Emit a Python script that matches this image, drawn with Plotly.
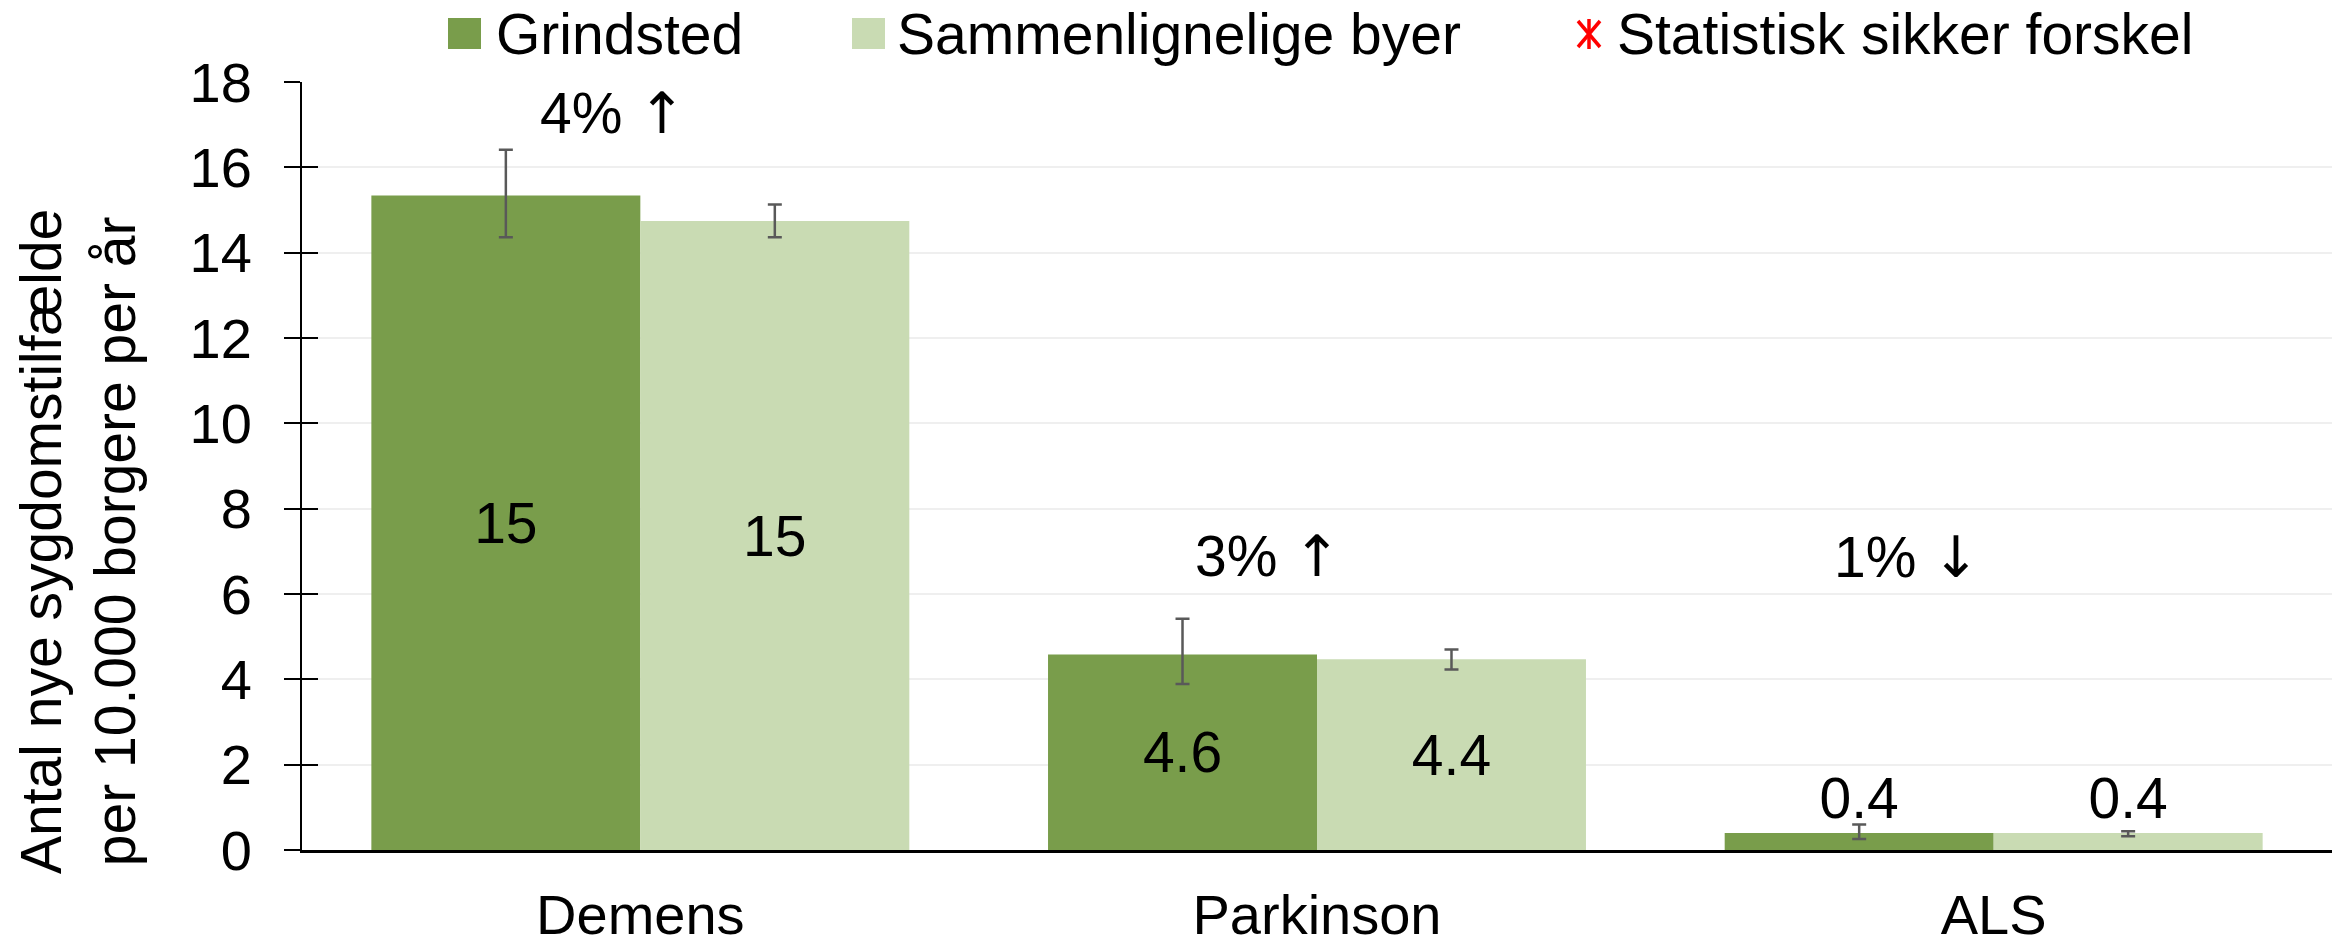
import plotly.graph_objects as go

# ---- data ----
categories = ["Demens", "Parkinson", "ALS"]
grindsted = [15.34, 4.58, 0.40]
grindsted_lo = [14.36, 3.89, 0.26]
grindsted_hi = [16.41, 5.42, 0.60]
sammen = [14.74, 4.47, 0.40]
sammen_lo = [14.36, 4.23, 0.32]
sammen_hi = [15.13, 4.70, 0.44]
grindsted_labels = ["15", "4.6", "0.4"]
sammen_labels = ["15", "4.4", "0.4"]
diff_values = ["4%", "3%", "1%"]
diff_arrows = ["↑", "↑", "↓"]
diff_y = [17.27, 6.9, 6.87]
y_ticks = [0, 2, 4, 6, 8, 10, 12, 14, 16, 18]
legend_names = ["Grindsted", "Sammenlignelige byer", "Statistisk sikker forskel"]

# ---- style ----
FONT = "Liberation Sans, Arial, sans-serif"
ARROW_FONT = "DejaVu Sans"
C_G = "#799D4B"
C_S = "#C9DBB3"
ERR = "#595959"
W, H = 2336, 946
L, R, T, B = 302, 4, 82, 96
PW, PH = W - L - R, H - T - B


def px(x):
    return (x - L) / PW


def py(y):
    return (H - B - y) / PH


label_pos = ["inside" if v > 2 else "outside" for v in grindsted]
label_pos_s = ["inside" if v > 2 else "outside" for v in sammen]
diff_shift = [-27, -49, -87]

fig = go.Figure()
fig.add_trace(go.Bar(
    x=categories, y=grindsted, name=legend_names[0],
    marker=dict(color=C_G, line=dict(width=0)),
    error_y=dict(type="data", symmetric=False,
                 array=[h - v for h, v in zip(grindsted_hi, grindsted)],
                 arrayminus=[v - l for v, l in zip(grindsted, grindsted_lo)],
                 color=ERR, thickness=2.5, width=7),
    text=grindsted_labels, textposition=label_pos, insidetextanchor="middle",
    textangle=0, constraintext="none",
    textfont=dict(family=FONT, size=57, color="black"),
    cliponaxis=False, showlegend=False,
))
fig.add_trace(go.Bar(
    x=categories, y=sammen, name=legend_names[1],
    marker=dict(color=C_S, line=dict(width=0)),
    error_y=dict(type="data", symmetric=False,
                 array=[h - v for h, v in zip(sammen_hi, sammen)],
                 arrayminus=[v - l for v, l in zip(sammen, sammen_lo)],
                 color=ERR, thickness=2.5, width=7),
    text=sammen_labels, textposition=label_pos_s, insidetextanchor="middle",
    textangle=0, constraintext="none",
    textfont=dict(family=FONT, size=57, color="black"),
    cliponaxis=False, showlegend=False,
))
# helper trace for the inside half of the crossing ticks
fig.add_trace(go.Scatter(x=[categories[0]], y=[None], yaxis="y2",
                         showlegend=False, hoverinfo="skip", mode="markers"))

annotations = []
for c, t, a, yv, xs in zip(categories, diff_values, diff_arrows, diff_y, diff_shift):
    annotations.append(dict(x=c, y=yv, xref="x", yref="y",
                            text=f"{t} <span style='font-family:{ARROW_FONT}'>{a}</span>",
                            showarrow=False,
                            xshift=xs, yanchor="middle", xanchor="center",
                            font=dict(family=FONT, size=57, color="black")))

# y-axis title
annotations.append(dict(x=px(78), y=py(542), xref="paper", yref="paper",
                        text="Antal nye sygdomstilfælde<br>per 10.000 borgere per år",
                        textangle=-90, showarrow=False, xanchor="center", yanchor="middle",
                        font=dict(family=FONT, size=57, color="black")))

# custom legend
shapes = []
shapes.append(dict(type="rect", xref="paper", yref="paper",
                   x0=px(448), x1=px(481), y0=py(49), y1=py(18),
                   fillcolor=C_G, line=dict(width=0)))
shapes.append(dict(type="rect", xref="paper", yref="paper",
                   x0=px(852), x1=px(885), y0=py(49), y1=py(18),
                   fillcolor=C_S, line=dict(width=0)))
cx, cy = 1589, 34
for (x0, y0, x1, y1) in [(cx - 11, cy - 13, cx + 11, cy + 13),
                         (cx + 11, cy - 13, cx - 11, cy + 13),
                         (cx, cy - 15, cx, cy + 15)]:
    shapes.append(dict(type="line", xref="paper", yref="paper",
                       x0=px(x0), y0=py(y0), x1=px(x1), y1=py(y1),
                       line=dict(color="#FF0000", width=3.5)))
for name, xl in zip(legend_names, [494, 895, 1615]):
    annotations.append(dict(x=px(xl), y=py(34), xref="paper", yref="paper",
                            text=name, showarrow=False, xanchor="left", yanchor="middle",
                            font=dict(family=FONT, size=57, color="black")))

fig.update_layout(
    width=W, height=H,
    margin=dict(l=L, r=R, t=T, b=B, pad=0, autoexpand=False),
    paper_bgcolor="white", plot_bgcolor="white",
    barmode="group", bargap=0.205, bargroupgap=0,
    font=dict(family=FONT, size=56, color="black"),
    showlegend=False,
    annotations=annotations, shapes=shapes,
    xaxis=dict(type="category", showline=True, linecolor="black", linewidth=2.5,
               ticks="", showgrid=False, zeroline=False, automargin=False,
               tickfont=dict(family=FONT, size=56, color="black"),
               ticklabelstandoff=14),
    yaxis=dict(range=[0, 18], tickvals=y_ticks, ticktext=[str(v) for v in y_ticks],
               showline=True, linecolor="black", linewidth=2, automargin=False,
               ticks="outside", ticklen=16, tickwidth=2, tickcolor="black",
               showgrid=True, gridcolor="#EFEFEF", gridwidth=2, zeroline=False,
               tickfont=dict(family=FONT, size=56, color="black"),
               ticklabelstandoff=21),
    yaxis2=dict(range=[0, 18], tickvals=y_ticks, overlaying="y", side="left",
                showline=False, ticks="inside", ticklen=16, tickwidth=2, tickcolor="black",
                showticklabels=False, showgrid=False, zeroline=False, automargin=False),
)

fig.write_html("out.html", config={"displayModeBar": False},
               post_script="document.body.style.margin='0';document.body.style.overflow='hidden';")
